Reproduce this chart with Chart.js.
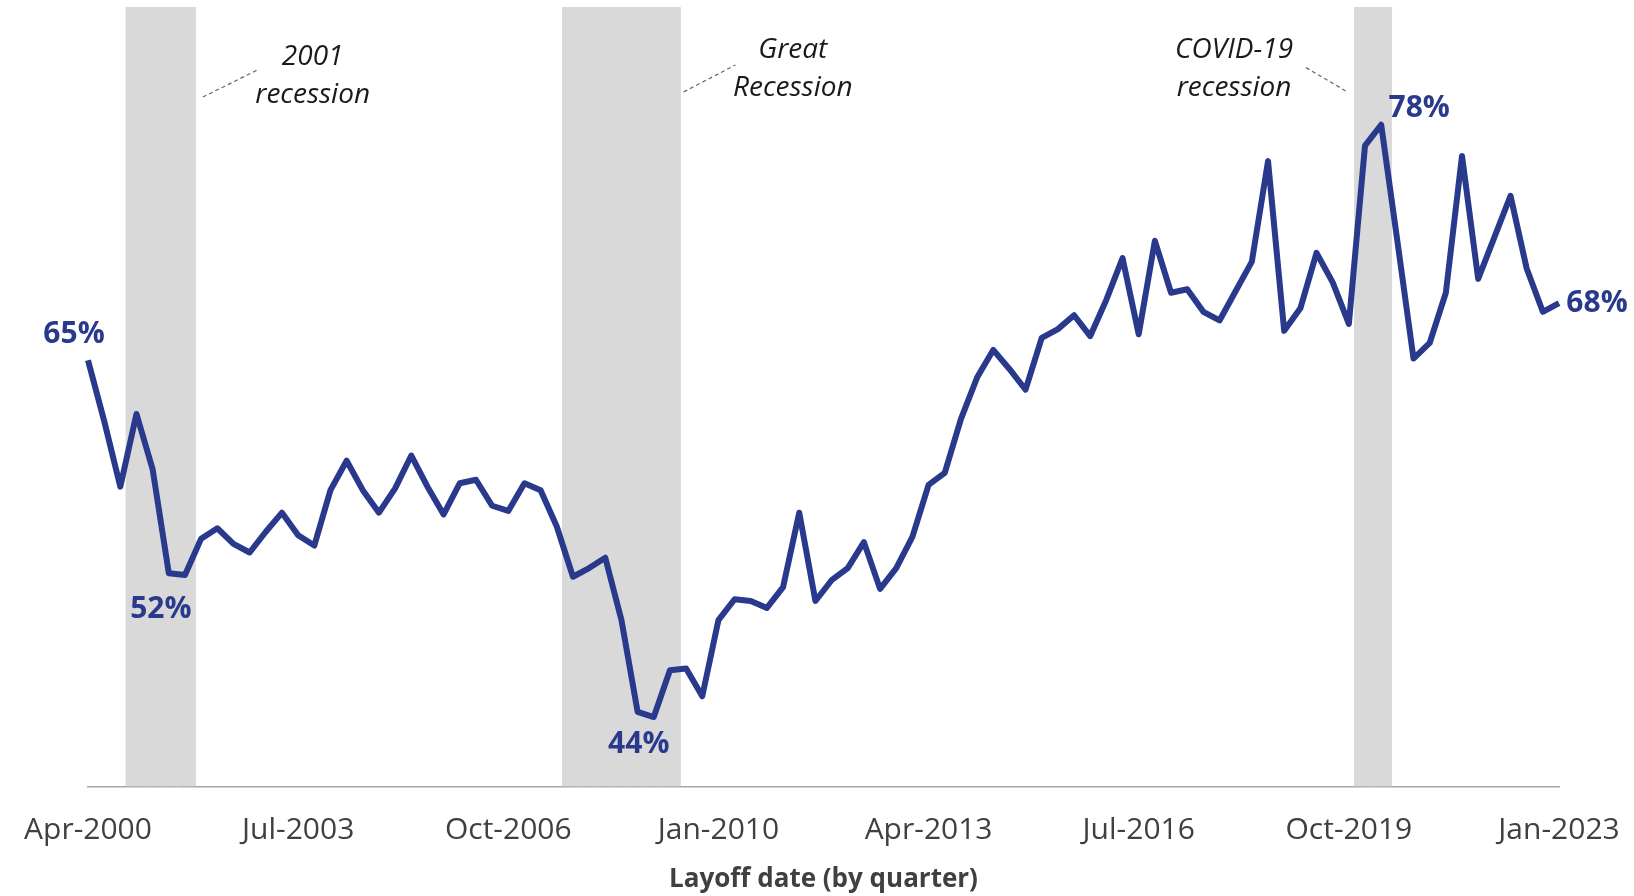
<!DOCTYPE html>
<html>
<head>
<meta charset="utf-8">
<script src="https://cdn.jsdelivr.net/npm/chart.js@4.4.1/dist/chart.umd.min.js"></script>
<style>
  html, body { margin: 0; padding: 0; background: #fff; }
  #wrap { width: 1634px; height: 896px; }
</style>
</head>
<body>
<div id="wrap"><canvas id="chart" width="1634" height="896"></canvas></div>
<script>
// share of laid-off workers (%), one value per quarter, Apr-2000 .. Jan-2023
const shareValues = [
  64.6, 61.1, 57.3, 61.5, 58.3, 52.3, 52.2, 54.3, 54.9, 54.0,
  53.5, 54.7, 55.8, 54.5, 53.9, 57.1, 58.8, 57.1, 55.8, 57.2,
  59.1, 57.3, 55.7, 57.5, 57.7, 56.2, 55.9, 57.5, 57.1, 55.0,
  52.1, 52.6, 53.2, 49.6, 44.3, 44.0, 46.7, 46.8, 45.2, 49.6,
  50.8, 50.7, 50.3, 51.5, 55.8, 50.7, 51.9, 52.6, 54.1, 51.4,
  52.6, 54.4, 57.4, 58.1, 61.2, 63.6, 65.2, 64.1, 62.9, 65.9,
  66.4, 67.2, 66.0, 68.1, 70.5, 66.1, 71.5, 68.5, 68.7, 67.4,
  66.9, 68.6, 70.3, 76.1, 66.3, 67.6, 70.8, 69.1, 66.7, 77.0,
  78.2, 71.5, 64.7, 65.6, 68.5, 76.4, 69.3, 71.7, 74.1, 69.9,
  67.4, 67.9,
];

const MONTHS = ["Jan", "Apr", "Jul", "Oct"];
const firstQuarter = { year: 2000, q: 1 }; // Apr-2000
const tickEvery = 13;

// categories: one per quarter
const quarters = shareValues.map((_, i) => {
  const n = firstQuarter.year * 4 + firstQuarter.q + i;
  return `${MONTHS[n % 4]}-${Math.floor(n / 4)}`;
});

const Y_MIN = 40;
const Y_MAX = 85;

// shaded recessions, first and last quarter
const recessions = [
  { from: "Jan-2001", to: "Oct-2001" },
  { from: "Oct-2007", to: "Apr-2009" },
  { from: "Jan-2020", to: "Apr-2020" },
];

// notes: x in quarter index, y in percent
const notes = [
  { lines: ["2001", "recession"], x: 13.9, y: 81.02 },
  { lines: ["Great", "Recession"], x: 43.6, y: 81.43 },
  { lines: ["COVID-19", "recession"], x: 70.9, y: 81.43 },
];
const leaders = [
  { x1: 7.1, y1: 79.8, x2: 10.45, y2: 81.35 },
  { x1: 36.85, y1: 80.1, x2: 40.05, y2: 81.65 },
  { x1: 75.35, y1: 81.5, x2: 77.9, y2: 80.1 },
];

// labelled points
const callouts = [
  { index: 0, dx: -14, dy: -17 },
  { index: 5, dx: -8, dy: 45 },
  { index: 35, dx: -15, dy: 36 },
  { index: 80, dx: 38, dy: -8 },
  { index: 91, dx: 38, dy: 9 },
];

const COLORS = {
  line: "#293a8c",
  band: "#d9d9d9",
  axis: "#a6a6a6",
  tick: "#404040",
  note: "#1a1a1a",
  leader: "#666666",
};
const FONT = "'Open Sans', sans-serif";

const bandData = quarters.map(() => null);
recessions.forEach((r) => {
  const a = quarters.indexOf(r.from);
  const b = quarters.indexOf(r.to);
  for (let i = a; i <= b; i++) bandData[i] = Y_MAX;
});

const notesPlugin = {
  id: "notes",
  afterDatasetsDraw(chart) {
    const { ctx } = chart;
    const { x, y } = chart.scales;
    ctx.save();

    ctx.strokeStyle = COLORS.leader;
    ctx.lineWidth = 1.2;
    ctx.setLineDash([4, 3]);
    leaders.forEach((l) => {
      ctx.beginPath();
      ctx.moveTo(x.getPixelForValue(l.x1), y.getPixelForValue(l.y1));
      ctx.lineTo(x.getPixelForValue(l.x2), y.getPixelForValue(l.y2));
      ctx.stroke();
    });
    ctx.setLineDash([]);

    ctx.fillStyle = COLORS.note;
    ctx.font = `italic 28px ${FONT}`;
    ctx.textAlign = "center";
    ctx.textBaseline = "middle";
    notes.forEach((n) => {
      const cx = x.getPixelForValue(n.x);
      const cy = y.getPixelForValue(n.y);
      n.lines.forEach((t, i) => {
        ctx.fillText(t, cx, cy + (i - (n.lines.length - 1) / 2) * 37.5);
      });
    });

    // value callouts
    const meta = chart.getDatasetMeta(0);
    ctx.fillStyle = COLORS.line;
    ctx.font = `bold 30px ${FONT}`;
    ctx.textBaseline = "alphabetic";
    callouts.forEach((c) => {
      const pt = meta.data[c.index];
      const text = Math.round(shareValues[c.index]) + "%";
      ctx.fillText(text, pt.x + c.dx, pt.y + c.dy);
    });

    ctx.restore();
  },
};

new Chart(document.getElementById("chart").getContext("2d"), {
  type: "line",
  data: {
    labels: quarters,
    datasets: [
      {
        type: "line",
        label: "Share",
        data: shareValues,
        borderColor: COLORS.line,
        borderWidth: 6,
        borderJoinStyle: "round",
        pointRadius: 0,
        tension: 0,
        order: 1,
      },
      {
        type: "bar",
        label: "Recession",
        data: bandData,
        backgroundColor: COLORS.band,
        barPercentage: 1.35,
        categoryPercentage: 1,
        order: 2,
      },
    ],
  },
  options: {
    responsive: false,
    animation: false,
    layout: { padding: { left: 88, right: 75, top: 7, bottom: 1 } },
    plugins: {
      legend: { display: false },
      tooltip: { enabled: false },
    },
    scales: {
      x: {
        offset: false,
        grid: { display: false, drawTicks: false },
        border: { display: true, color: COLORS.axis, width: 1.5 },
        ticks: {
          autoSkip: false,
          maxRotation: 0,
          padding: 0,
          color: COLORS.tick,
          font: { family: FONT, size: 30, lineHeight: 2.95 },
          callback: (v, i) => (i % tickEvery === 0 ? quarters[i] : null),
        },
        title: {
          display: true,
          text: "Layoff date (by quarter)",
          color: COLORS.tick,
          font: { family: FONT, size: 26, weight: "bold" },
          padding: { top: -11, bottom: 0 },
        },
      },
      y: { display: false, min: Y_MIN, max: Y_MAX },
    },
  },
  plugins: [notesPlugin],
});
</script>
</body>
</html>
